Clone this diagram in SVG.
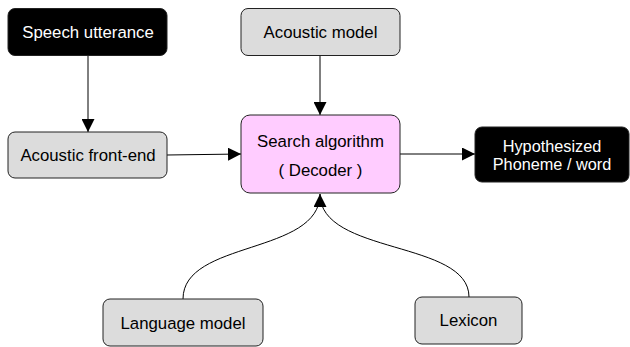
<svg xmlns="http://www.w3.org/2000/svg" width="630" height="347" viewBox="0 0 630 347">
<style>
.box{stroke:#222;stroke-width:1}
.g{fill:#dcdcdc}
.k{fill:#000}
.p{fill:#ffccff}
text{font-family:"Liberation Sans",Arial,sans-serif;font-size:16.8px;text-anchor:middle;dominant-baseline:central}
.w{fill:#fff}
.t{fill:#000}
.s{font-size:16.3px}
.c{fill:none;stroke:#000;stroke-width:1}
</style>
<defs>
<marker id="ah" viewBox="0 0 10 10" refX="10" refY="5" markerWidth="13" markerHeight="13" markerUnits="userSpaceOnUse" orient="auto">
<path d="M0,0 L10,5 L0,10 Z" fill="#000"/>
</marker>
</defs>
<g id="connectors">
<path class="c" d="M88,56 L88,132" marker-end="url(#ah)"/>
<path class="c" d="M320,56 L320,115" marker-end="url(#ah)"/>
<path class="c" d="M167,155 L241,154" marker-end="url(#ah)"/>
<path class="c" d="M400,154 L475,154" marker-end="url(#ah)"/>
<path class="c" d="M183,299 C183,240 320,255 320,194"/>
<path class="c" d="M469,297 C469,240 320,255 320,194" marker-end="url(#ah)"/>
</g>
<g id="speech">
<rect class="box k" x="8" y="8.5" width="159" height="47" rx="7"/>
<text class="w" x="88" y="32.5">Speech utterance</text>
</g>
<g id="acoustic-model">
<rect class="box g" x="241" y="8.5" width="159" height="47" rx="7"/>
<text class="t" x="320.5" y="32.5">Acoustic model</text>
</g>
<g id="front-end">
<rect class="box g" x="8" y="132" width="159" height="46" rx="7"/>
<text class="t" x="88" y="155">Acoustic front-end</text>
</g>
<g id="search">
<rect class="box p" x="241" y="115" width="159" height="78" rx="9"/>
<text class="t" x="320.5" y="141">Search algorithm</text>
<text class="t" x="320.5" y="170">( Decoder )</text>
</g>
<g id="hypothesized">
<rect class="box k" x="475" y="127" width="154" height="55" rx="7"/>
<text class="w s" x="552" y="146">Hypothesized</text>
<text class="w s" x="552" y="164">Phoneme / word</text>
</g>
<g id="language-model">
<rect class="box g" x="103" y="299" width="160" height="47" rx="7"/>
<text class="t" x="183" y="323">Language model</text>
</g>
<g id="lexicon">
<rect class="box g" x="415" y="297" width="107" height="47" rx="7"/>
<text class="t" x="468.5" y="320.5">Lexicon</text>
</g>
</svg>
